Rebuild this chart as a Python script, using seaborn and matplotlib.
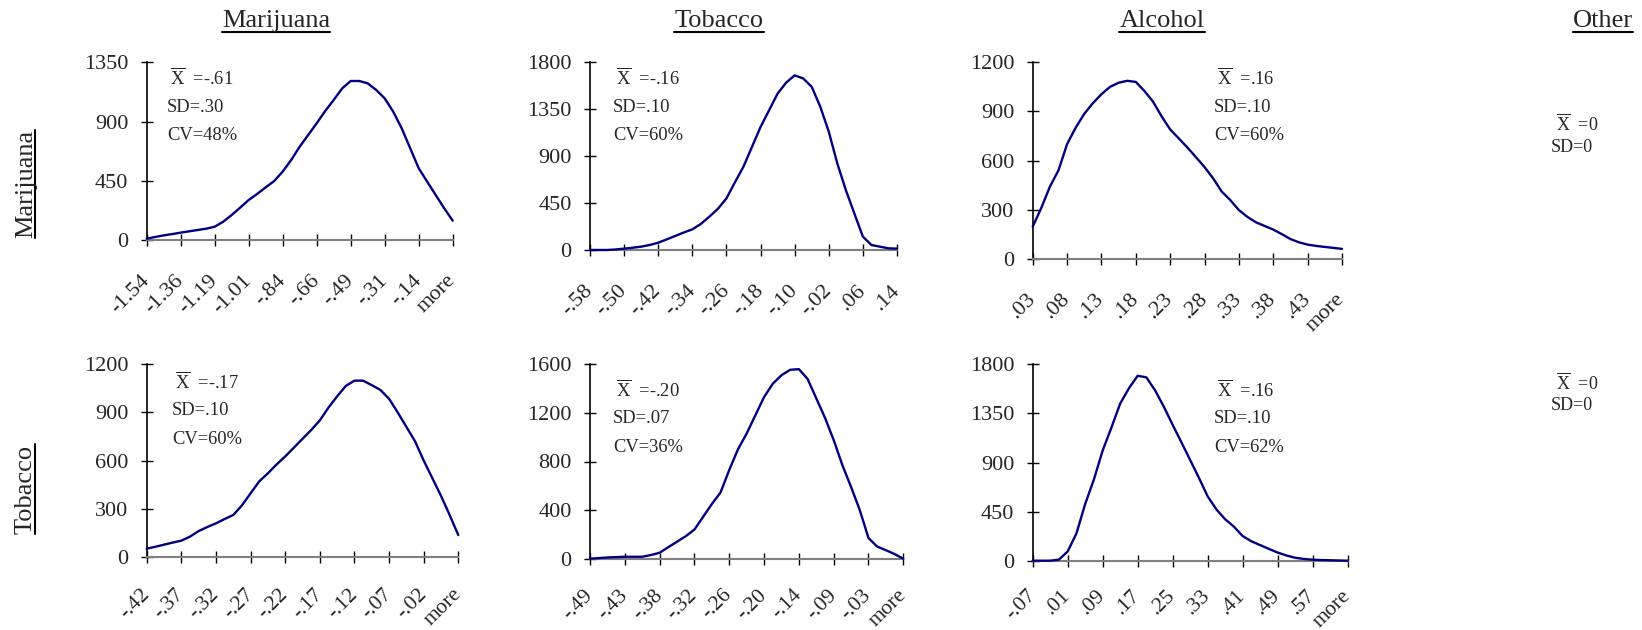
import numpy as np
import pandas as pd
import matplotlib
matplotlib.use("Agg")
import matplotlib.pyplot as plt
import matplotlib.transforms as mtransforms
from matplotlib.lines import Line2D
import seaborn as sns

# ---------------- data ----------------
col_titles = ["Marijuana", "Tobacco", "Alcohol", "Other"]
row_titles = ["Marijuana", "Tobacco"]

# row Marijuana
mm_values = [10, 23, 35, 45, 56, 66, 76, 86, 101, 139, 190, 246, 304, 350, 400, 448, 520,
             608, 709, 798, 887, 980, 1064, 1152, 1208, 1208, 1190, 1140, 1076, 975, 849,
             697, 545, 443, 342, 241, 147]
mm_labels = ["-1.54", "-1.36", "-1.19", "-1.01", "-.84", "-.66", "-.49", "-.31", "-.14", "more"]
mm_yticks = [0, 450, 900, 1350]
mm_stats = ["=-.61", "SD=.30", "CV=48%"]

mt_values = [0, 0, 0, 5, 13, 22, 32, 48, 70, 102, 135, 168, 198, 250, 320, 395, 495,
             650, 800, 990, 1180, 1340, 1500, 1605, 1675, 1645, 1565, 1375, 1135, 830, 575,
             350, 128, 48, 32, 16, 13]
mt_labels = ["-.58", "-.50", "-.42", "-.34", "-.26", "-.18", "-.10", "-.02", ".06", ".14"]
mt_yticks = [0, 450, 900, 1350, 1800]
mt_stats = ["=-.16", "SD=.10", "CV=60%"]

ma_values = [196, 310, 440, 540, 700, 800, 885, 950, 1005, 1050, 1075, 1087, 1080, 1025,
             960, 870, 790, 735, 680, 620, 560, 491, 410, 358, 297, 255, 222, 200, 178,
             150, 120, 100, 86, 78, 72, 66, 60]
ma_labels = [".03", ".08", ".13", ".18", ".23", ".28", ".33", ".38", ".43", "more"]
ma_yticks = [0, 300, 600, 900, 1200]
ma_stats = ["=.16", "SD=.10", "CV=60%"]

# row Tobacco
tm_values = [50, 62, 75, 88, 100, 125, 160, 185, 208, 235, 260, 320, 395, 470, 520, 575,
             625, 680, 735, 790, 850, 930, 1000, 1065, 1098, 1098, 1070, 1040, 985, 900,
             810, 720, 600, 490, 380, 260, 135]
tm_labels = ["-.42", "-.37", "-.32", "-.27", "-.22", "-.17", "-.12", "-.07", "-.02", "more"]
tm_yticks = [0, 300, 600, 900, 1200]
tm_stats = ["=-.17", "SD=.10", "CV=60%"]

tt_values = [0, 5, 10, 13, 16, 16, 16, 30, 49, 95, 140, 185, 240, 345, 450, 545, 730, 900,
             1030, 1180, 1330, 1440, 1510, 1555, 1560, 1480, 1320, 1160, 977, 770, 590,
             400, 170, 100, 70, 38, 0]
tt_labels = ["-.49", "-.43", "-.38", "-.32", "-.26", "-.20", "-.14", "-.09", "-.03", "more"]
tt_yticks = [0, 400, 800, 1200, 1600]
tt_stats = ["=-.20", "SD=.07", "CV=36%"]

ta_values = [0, 0, 0, 10, 85, 250, 520, 745, 1010, 1220, 1440, 1580, 1695, 1680, 1560,
             1410, 1245, 1085, 923, 760, 590, 470, 380, 312, 226, 178, 143, 108, 75, 48,
             27, 16, 9, 6, 4, 2, 0]
ta_labels = ["-.07", ".01", ".09", ".17", ".25", ".33", ".41", ".49", ".57", "more"]
ta_yticks = [0, 450, 900, 1350, 1800]
ta_stats = ["=.16", "SD=.10", "CV=62%"]

other_stats = ["=0", "SD=0"]

# ---------------- style ----------------
sns.set_style("white")
plt.rcParams["font.family"] = ["Liberation Serif", "DejaVu Serif"]
plt.rcParams["mathtext.fontset"] = "custom"
plt.rcParams["mathtext.rm"] = "Liberation Serif"
plt.rcParams["mathtext.it"] = "Liberation Serif:italic"

W, H = 1642, 630
fig = plt.figure(figsize=(W / 100, H / 100), dpi=100)
fig.patch.set_facecolor("white")

LINE = "#000080"

panels = [
    # values, labels, yticks, stats, (left, right, top, bottom) px, stats pos, x-label pad, x-label size
    (mm_values, mm_labels, mm_yticks, mm_stats, (146.7, 452.7, 62.3, 240.0), (170, 78, 29), 23, 16),
    (mt_values, mt_labels, mt_yticks, mt_stats, (590.0, 897.0, 62.3, 250.0), (616, 78, 29), 23, 16),
    (ma_values, ma_labels, ma_yticks, ma_stats, (1032.7, 1342.0, 62.3, 258.7), (1217, 78, 29), 23, 16),
    (tm_values, tm_labels, tm_yticks, tm_stats, (146.7, 458.3, 364.3, 556.7), (175, 382, 28.5), 21, 15.5),
    (tt_values, tt_labels, tt_yticks, tt_stats, (590.0, 903.3, 364.3, 558.7), (616, 390, 28.5), 20, 15.5),
    (ta_values, ta_labels, ta_yticks, ta_stats, (1032.7, 1347.6, 364.3, 560.7), (1217, 390, 28.5), 19, 15.5),
]

XBAR = r"$\overline{\mathrm{X}}$  "

for vals, labels, yticks, stats, (l, r, t, b), (sx, sy, sdy), xpad, xsize in panels:
    ax = fig.add_axes([l / W, 1 - b / H, (r - l) / W, (b - t) / H])
    ax.patch.set_alpha(0)
    df = pd.DataFrame({"bin": np.arange(len(vals)), "count": vals})
    sns.lineplot(data=df, x="bin", y="count", ax=ax, color=LINE, linewidth=1.7,
                 clip_on=False, zorder=5)
    n = len(vals)
    ax.set_xlim(0, n - 1)
    ax.set_ylim(0, yticks[-1])
    ax.set_xlabel("")
    ax.set_ylabel("")
    ax.set_yticks(yticks)
    ax.set_yticklabels([str(v) for v in yticks], fontsize=16)
    step = (n - 1) // (len(labels) - 1)
    ax.set_xticks(np.arange(0, n, step))
    ax.set_xticklabels(labels, fontsize=xsize, rotation=45, ha="right", va="center",
                       rotation_mode="anchor")
    for lab in ax.get_xticklabels():
        lab.set_transform(lab.get_transform() +
                          mtransforms.ScaledTranslation(-6 / 100, 0, fig.dpi_scale_trans))
    ax.tick_params(axis="both", which="major", direction="inout", length=8.5, width=1.0,
                   color="black", bottom=True, left=True, top=False, right=False)
    ax.tick_params(axis="y", pad=9)
    ax.tick_params(axis="x", pad=xpad)
    ax.grid(False)
    for s in ["top", "right"]:
        ax.spines[s].set_visible(False)
    ax.spines["left"].set_color("black")
    ax.spines["left"].set_linewidth(1.2)
    ax.spines["bottom"].set_color("#808080")
    ax.spines["bottom"].set_linewidth(1.5)

    fig.text(sx / W, 1 - sy / H, XBAR + stats[0], fontsize=13.3, ha="left", va="center")
    fig.text((sx - 3) / W, 1 - (sy + sdy) / H, stats[1], fontsize=13.3, ha="left", va="center")
    fig.text((sx - 3) / W, 1 - (sy + 2 * sdy) / H, stats[2], fontsize=13.3, ha="left", va="center")

# Other column stats
for (ox, oy) in [(1556, 124), (1556, 383)]:
    fig.text(ox / W, 1 - oy / H, XBAR + other_stats[0], fontsize=13, ha="left", va="center")
    fig.text((ox - 5) / W, 1 - (oy + 23) / H, other_stats[1], fontsize=13, ha="left", va="center")

# Column and row titles (underlined)
col_x = [276, 719, 1162, 1603]
col_texts = []
for name, cx in zip(col_titles, col_x):
    col_texts.append(fig.text(cx / W, 1 - 27 / H, name, fontsize=19, ha="center",
                              va="baseline"))
row_y = [184, 489]
row_texts = []
for name, ry in zip(row_titles, row_y):
    row_texts.append(fig.text(32 / W, 1 - ry / H, name, fontsize=19, rotation=90,
                              ha="center", va="baseline", rotation_mode="anchor"))

fig.canvas.draw()
for txt in col_texts:
    bb = txt.get_window_extent()
    fig.add_artist(Line2D([bb.x0 / W, bb.x1 / W], [1 - 31.5 / H] * 2,
                          transform=fig.transFigure, color="black", linewidth=1.5))
for txt in row_texts:
    bb = txt.get_window_extent()
    fig.add_artist(Line2D([34.5 / W] * 2, [bb.y0 / H, bb.y1 / H],
                          transform=fig.transFigure, color="black", linewidth=1.5))

fig.savefig("out.png", dpi=100, facecolor="white")
